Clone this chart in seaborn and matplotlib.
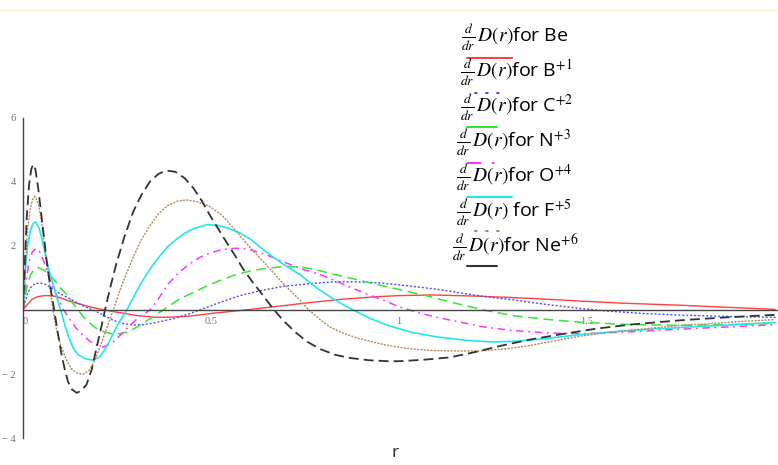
import matplotlib
matplotlib.use("Agg")
import matplotlib.pyplot as plt
from matplotlib.lines import Line2D
import seaborn as sns

# Be
r_be = [0, 0.01, 0.023, 0.035, 0.05, 0.065, 0.08, 0.1, 0.125, 0.15, 0.178, 0.2, 0.218,
        0.24, 0.267, 0.3, 0.356, 0.4, 0.444, 0.506, 0.55, 0.59, 0.666, 0.754, 0.843,
        0.932, 1.0, 1.09, 1.215, 1.357, 1.48, 1.6, 1.747, 1.862, 2.0]
d_be = [0, 0.15, 0.32, 0.4, 0.44, 0.45, 0.44, 0.38, 0.27, 0.19, 0.1, 0.04, 0,
        -0.05, -0.1, -0.17, -0.23, -0.22, -0.19, -0.1, -0.05, 0, 0.1, 0.22, 0.33,
        0.41, 0.45, 0.47, 0.43, 0.36, 0.28, 0.21, 0.15, 0.09, 0.02]

# B+1
r_b = [0, 0.01, 0.02, 0.032, 0.045, 0.06, 0.08, 0.1, 0.125, 0.145, 0.16, 0.175, 0.187,
       0.21, 0.24, 0.265, 0.293, 0.32, 0.35, 0.4, 0.44, 0.47, 0.52, 0.577, 0.63, 0.692,
       0.76, 0.825, 0.89, 0.958, 1.02, 1.1, 1.215, 1.313, 1.4, 1.48, 1.55, 1.65, 1.747,
       1.87, 2.0]
d_b = [0, 0.45, 0.7, 0.82, 0.85, 0.8, 0.65, 0.5, 0.35, 0.22, 0.13, 0.05, 0,
       -0.14, -0.32, -0.42, -0.47, -0.46, -0.4, -0.27, -0.13, 0, 0.22, 0.45, 0.6, 0.74,
       0.82, 0.88, 0.88, 0.84, 0.76, 0.65, 0.44, 0.3, 0.16, 0.05, -0.03, -0.11, -0.16,
       -0.2, -0.23]

# C+2
r_c = [0, 0.01, 0.02, 0.03, 0.041, 0.055, 0.07, 0.085, 0.1, 0.115, 0.13, 0.147, 0.16,
       0.178, 0.196, 0.215, 0.235, 0.258, 0.28, 0.311, 0.34, 0.373, 0.41, 0.444, 0.48,
       0.515, 0.56, 0.604, 0.65, 0.7, 0.74, 0.775, 0.825, 0.88, 0.932, 0.985, 1.03,
       1.082, 1.136, 1.233, 1.3, 1.38, 1.48, 1.6, 1.747, 1.87, 2.0]
d_c = [0, 0.7, 1.1, 1.28, 1.33, 1.25, 1.1, 0.92, 0.68, 0.5, 0.25, 0, -0.21,
       -0.42, -0.58, -0.68, -0.74, -0.74, -0.68, -0.48, -0.25, 0, 0.3, 0.5, 0.7,
       0.88, 1.08, 1.22, 1.31, 1.36, 1.34, 1.27, 1.12, 0.97, 0.82, 0.68, 0.56,
       0.42, 0.25, -0.02, -0.17, -0.28, -0.38, -0.45, -0.48, -0.46, -0.42]

# N+3
r_n = [0, 0.008, 0.016, 0.025, 0.035, 0.045, 0.056, 0.067, 0.08, 0.094, 0.108, 0.125,
       0.14, 0.16, 0.187, 0.214, 0.24, 0.267, 0.29, 0.311, 0.338, 0.36, 0.385, 0.409,
       0.43, 0.453, 0.475, 0.497, 0.52, 0.545, 0.568, 0.6, 0.648, 0.7, 0.75, 0.781,
       0.83, 0.86, 0.914, 0.96, 1.0, 1.05, 1.09, 1.13, 1.22, 1.3, 1.4, 1.5, 1.62,
       1.73, 1.87, 2.0]
d_n = [0, 0.9, 1.5, 1.82, 1.92, 1.8, 1.5, 1.11, 0.7, 0.35, 0, -0.3,
       -0.55, -0.8, -1.06, -1.16, -1.0, -0.69, -0.42, -0.2, 0, 0.35, 0.8, 1.1,
       1.32, 1.52, 1.67, 1.78, 1.86, 1.91, 1.93, 1.9, 1.72, 1.47, 1.25, 1.15,
       0.92, 0.76, 0.5, 0.3, 0.1, -0.08, -0.2, -0.3, -0.52, -0.64, -0.72, -0.74, -0.68,
       -0.61, -0.53, -0.46]

# O+4
r_o = [0, 0.006, 0.012, 0.02, 0.027, 0.034, 0.042, 0.05, 0.059, 0.068, 0.076, 0.085,
       0.094, 0.1, 0.112, 0.123, 0.134, 0.147, 0.165, 0.187, 0.205, 0.22, 0.231, 0.25,
       0.276, 0.298, 0.32, 0.342, 0.364, 0.385, 0.409, 0.43, 0.453, 0.489, 0.52, 0.542,
       0.575, 0.604, 0.648, 0.69, 0.737, 0.78, 0.825, 0.85, 0.878, 0.92, 0.97, 1.03,
       1.1, 1.18, 1.25, 1.32, 1.4, 1.48, 1.6, 1.774, 1.9, 2.0]
d_o = [0, 1.2, 2.0, 2.5, 2.7, 2.75, 2.58, 2.25, 1.75, 1.3, 0.95, 0.6,
       0.22, 0, -0.5, -0.9, -1.2, -1.4, -1.52, -1.57, -1.45, -1.2, -0.95, -0.5,
       0, 0.5, 0.95, 1.35, 1.69, 1.98, 2.22, 2.4, 2.54, 2.67, 2.64, 2.57,
       2.42, 2.22, 1.8, 1.45, 1.1, 0.7, 0.35, 0.18, 0, -0.25, -0.48, -0.69,
       -0.84, -0.95, -1.0, -0.97, -0.88, -0.77, -0.65, -0.53, -0.45, -0.39]

# F+5
r_f = [0, 0.006, 0.012, 0.02, 0.026, 0.032, 0.04, 0.048, 0.056, 0.067, 0.078, 0.088,
       0.1, 0.115, 0.13, 0.145, 0.16, 0.175, 0.19, 0.205, 0.22, 0.24, 0.265, 0.293,
       0.315, 0.338, 0.36, 0.385, 0.41, 0.435, 0.465, 0.497, 0.53, 0.568, 0.604, 0.648,
       0.69, 0.737, 0.76, 0.79, 0.816, 0.85, 0.887, 0.93, 0.967, 1.02, 1.08, 1.136,
       1.215, 1.28, 1.348, 1.42, 1.48, 1.56, 1.66, 1.75, 1.835, 1.92, 2.0]
d_f = [0, 1.3, 2.5, 3.2, 3.48, 3.55, 3.35, 2.85, 2.15, 1.1, 0.15, -0.55,
       -1.1, -1.55, -1.85, -1.98, -2.01, -1.9, -1.6, -1.15, -0.65, 0, 0.85, 1.65,
       2.2, 2.64, 3.0, 3.27, 3.4, 3.44, 3.38, 3.23, 2.95, 2.45, 1.95, 1.4,
       0.85, 0.3, 0, -0.3, -0.53, -0.72, -0.87, -1.0, -1.1, -1.2, -1.26, -1.28,
       -1.28, -1.22, -1.11, -0.95, -0.82, -0.7, -0.58, -0.48, -0.42, -0.35, -0.3]

# Ne+6
r_ne = [0, 0.005, 0.01, 0.016, 0.022, 0.027, 0.033, 0.04, 0.047, 0.055, 0.063, 0.073,
        0.083, 0.093, 0.103, 0.112, 0.12, 0.13, 0.143, 0.155, 0.169, 0.183, 0.196,
        0.207, 0.218, 0.233, 0.249, 0.27, 0.293, 0.315, 0.338, 0.36, 0.38, 0.405,
        0.43, 0.453, 0.475, 0.497, 0.52, 0.542, 0.565, 0.586, 0.61, 0.63, 0.648,
        0.668, 0.69, 0.72, 0.754, 0.79, 0.83, 0.87, 0.92, 0.97, 1.0, 1.06, 1.136,
        1.2, 1.27, 1.35, 1.43, 1.526, 1.62, 1.75, 1.87, 2.0]
d_ne = [0, 1.5, 2.9, 3.9, 4.4, 4.55, 4.4, 3.85, 3.15, 2.35, 1.53, 0.7,
        0, -0.75, -1.43, -1.9, -2.25, -2.48, -2.59, -2.52, -2.33, -1.85, -1.16,
        -0.6, 0, 0.75, 1.48, 2.3, 3.07, 3.6, 4.02, 4.25, 4.36, 4.32,
        4.12, 3.81, 3.42, 2.96, 2.52, 2.1, 1.68, 1.27, 0.88, 0.58, 0.3,
        0, -0.3, -0.65, -0.98, -1.22, -1.4, -1.5, -1.57, -1.6, -1.6, -1.56, -1.48,
        -1.32, -1.12, -0.92, -0.76, -0.58, -0.45, -0.32, -0.23, -0.15]

labels = [r"$\frac{d}{dr}\,D(r)$for Be",
          r"$\frac{d}{dr}\,D(r)$for B$^{+1}$",
          r"$\frac{d}{dr}\,D(r)$for C$^{+2}$",
          r"$\frac{d}{dr}\,D(r)$for N$^{+3}$",
          r"$\frac{d}{dr}\,D(r)$for O$^{+4}$",
          r"$\frac{d}{dr}\,D(r)$ for F$^{+5}$",
          r"$\frac{d}{dr}\,D(r)$for Ne$^{+6}$"]

series = [(r_be, d_be), (r_b, d_b), (r_c, d_c), (r_n, d_n),
          (r_o, d_o), (r_f, d_f), (r_ne, d_ne)]

# colour, linewidth, linestyle, capstyle  (curves)
styles = [
    ("#ff4040", 1.0, "-", "butt"),
    ("#5050ff", 1.1, (0, (0.6, 2.0)), "round"),
    ("#33e633", 1.1, (0, (6.5, 3.6)), "butt"),
    ("#ff33ff", 1.1, (0, (5, 3, 1.2, 3)), "butt"),
    ("#22e8ee", 1.2, "-", "butt"),
    ("#b88a5c", 1.1, (0, (0.6, 1.6)), "round"),
    ("#333333", 1.3, (0, (5.5, 2.8)), "butt"),
]
# short samples under the legend labels
sample_ls = ["-", (0, (0.8, 4.5)), "-", (0, (7, 5, 1.2, 5)), "-", (0, (0.8, 4.5)), "-"]

sns.set_theme(style="white")
plt.rcParams["font.family"] = ["Open Sans", "DejaVu Sans"]
plt.rcParams["mathtext.fontset"] = "stix"

W, H = 778, 465
fig = plt.figure(figsize=(W / 100, H / 100), dpi=100)
ax = fig.add_axes([23 / W, 27 / H, 754 / W, 320 / H])

for (r, d), (col, lw, ls, cap) in zip(series, styles):
    sns.lineplot(x=r, y=d, ax=ax, color=col, linewidth=lw, linestyle=ls,
                 dash_capstyle=cap, estimator=None)

ax.set_xlim(0, 2.005)
ax.set_ylim(-4, 6)
ax.spines["top"].set_visible(False)
ax.spines["right"].set_visible(False)
ax.spines["bottom"].set_position(("data", 0))
for s in ("left", "bottom"):
    ax.spines[s].set_color("#444444")
    ax.spines[s].set_linewidth(1.0)

ax.set_xticks([0, 0.5, 1, 1.5])
ax.set_xticklabels(["0", "0.5", "1", "1.5"])
ax.set_yticks([-4, -2, 2, 4, 6])
ax.set_yticklabels(["\u2212 4", "\u2212 2", "2", "4", "6"])
ax.tick_params(axis="both", direction="inout", length=4, width=0.8,
               color="#555555", labelcolor="#707070", labelsize=7.5, pad=3)
for t in ax.get_xticklabels() + ax.get_yticklabels():
    t.set_family("Liberation Serif")
ax.get_xticklabels()[0].set_horizontalalignment("left")
ax.set_xlabel("")
ax.set_ylabel("")

# legend: label text with a line sample below it
text_pos = [(461, 37), (460, 72), (460, 107), (456, 142), (456, 177), (456, 212), (452, 247)]
sample_pos = [(467, 512, 58), (475, 503, 93), (467, 497, 127), (467, 496, 163),
              (467, 512, 197), (475, 503, 231), (467, 497, 266)]
for lab, (tx, ty), (x0, x1, sy), (col, lw, ls, cap), sls in zip(
        labels, text_pos, sample_pos, styles, sample_ls):
    fig.text(tx / W, 1 - ty / H, lab, fontsize=14, va="center", ha="left", color="black")
    fig.add_artist(Line2D([x0 / W, x1 / W], [1 - sy / H, 1 - sy / H],
                          transform=fig.transFigure, color=col, linewidth=1.5,
                          linestyle=sls, dash_capstyle=cap))

fig.add_artist(Line2D([0, 1], [1 - 10 / H, 1 - 10 / H], transform=fig.transFigure,
                      color="#fcf1d6", linewidth=1))
fig.text(395 / W, 4 / H, "r", fontsize=12.5, ha="center", va="bottom")

fig.savefig("out.png", dpi=100)
